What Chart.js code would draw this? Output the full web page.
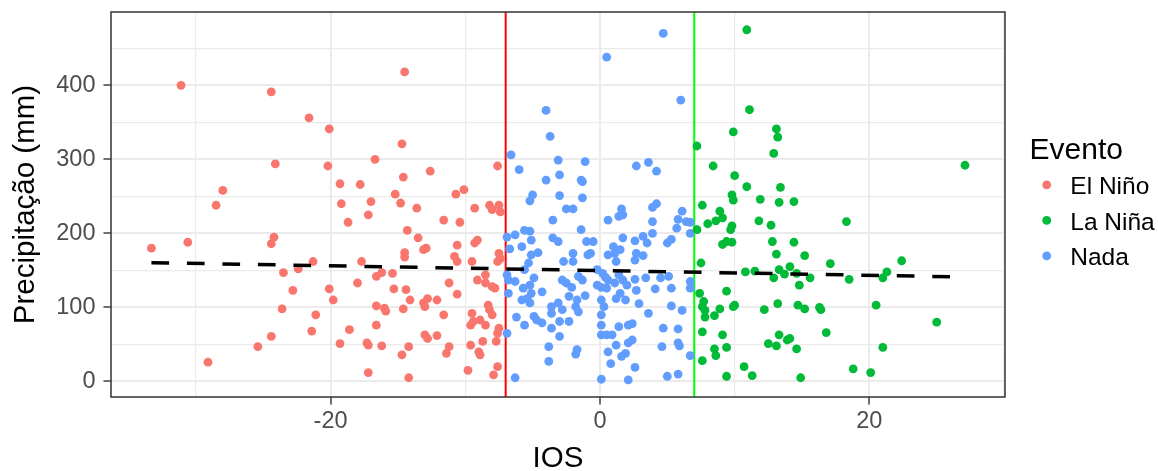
<!DOCTYPE html>
<html>
<head>
<meta charset="utf-8">
<script src="https://cdn.jsdelivr.net/npm/chart.js@4.4.0/dist/chart.umd.min.js"></script>
<style>
  html, body { margin: 0; padding: 0; background: #fff; }
  canvas { display: block; }
</style>
</head>
<body>
<canvas id="grafico" width="1158" height="471"></canvas>
<script>
// categorias do evento e cores (paleta padrao do ggplot)
var categorias = ['El Niño', 'La Niña', 'Nada'];
var cores = ['#F8766D', '#00BA38', '#619CFF'];

// [IOS, precipitacao (mm)]
var elNino = [
  [-31.1,400],[-24.4,391],[-21.6,356],[-20.1,341],[-14.5,418],[-14.7,321],[-16.7,300],[-14.6,276],
  [-24.1,294],[-20.2,291],[-19.3,267],[-17.8,266],[-28.0,258],[-28.5,238],[-19.2,240],[-17.0,243],
  [-15.2,253],[-14.8,241],[-17.2,225],[-18.7,215],[-14.3,204],[-33.3,180],[-30.6,188],[-24.2,195],
  [-24.4,186],[-21.3,162],[-22.4,152],[-23.5,147],[-22.8,123],[-23.6,98],[-21.1,90],[-21.4,68],
  [-24.4,61],[-25.4,47],[-29.1,26],[-20.1,125],[-19.8,110],[-18.0,133],[-17.7,162],[-16.6,142],
  [-16.2,147],[-15.4,146],[-15.3,125],[-14.4,124],[-14.5,174],[-14.5,168],[-16.6,102],[-16.0,99],
  [-15.9,95],[-14.6,98],[-16.6,76],[-18.6,70],[-19.3,51],[-17.3,52],[-17.2,49],[-16.2,48],
  [-14.7,36],[-17.2,12],[-14.2,47],[-14.2,5],[-14.1,110],[-12.6,284],[-7.6,291],[-10.7,253],
  [-10.1,259],[-13.6,234],[-9.3,234],[-8.2,238],[-7.5,238],[-8.0,232],[-7.4,229],[-11.6,218],
  [-10.4,215],[-13.5,194],[-12.9,180],[-13.1,178],[-10.6,184],[-9.3,187],[-9.1,191],[-7.5,173],
  [-7.4,166],[-7.6,162],[-10.8,169],[-10.6,162],[-9.5,162],[-8.5,144],[-9.1,137],[-8.5,133],
  [-11.2,133],[-10.6,118],[-7.8,126],[-8.0,128],[-13.1,106],[-12.8,112],[-12.1,110],[-13.0,101],
  [-11.6,90],[-9.5,92],[-8.9,83],[-8.5,76],[-9.6,76],[-9.4,81],[-8.3,103],[-8.2,97],
  [-8.0,90],[-7.5,72],[-13.0,63],[-12.8,58],[-12.1,62],[-11.2,47],[-11.4,38],[-9.6,49],
  [-8.7,54],[-9.0,40],[-8.9,36],[-7.7,54],[-7.6,65],[-9.8,15],[-7.9,9],[-7.6,20]
];

var laNina = [
  [10.9,475],[11.1,367],[9.9,337],[13.1,341],[13.2,330],[12.9,308],[7.2,318],[8.4,291],
  [10.0,278],[10.9,263],[13.4,262],[27.1,292],[9.8,252],[9.9,245],[11.9,246],[13.3,242],
  [14.4,243],[7.6,238],[8.9,230],[8.6,217],[9.1,221],[8.0,213],[9.8,210],[9.7,205],
  [11.8,217],[12.7,211],[18.3,216],[7.2,205],[9.1,185],[9.4,189],[9.8,188],[12.8,189],
  [14.4,188],[13.1,172],[15.2,170],[7.5,160],[17.1,159],[22.4,163],[10.8,148],[11.5,149],
  [13.3,151],[12.9,140],[13.7,145],[14.1,155],[14.6,146],[14.8,130],[15.6,140],[18.5,138],
  [21.0,140],[21.3,148],[9.4,122],[7.4,119],[7.7,108],[7.6,101],[7.8,96],[7.8,87],
  [8.5,89],[8.9,98],[9.9,101],[10.0,103],[12.2,97],[13.2,105],[14.7,103],[15.2,98],
  [16.3,100],[16.4,97],[20.5,103],[25.0,80],[7.6,67],[9.1,63],[13.3,63],[12.5,51],
  [13.1,48],[13.9,56],[14.1,58],[14.6,44],[16.8,66],[21.0,46],[8.5,44],[8.6,35],
  [9.4,46],[7.6,28],[10.7,20],[11.3,8],[9.4,7],[14.9,5],[18.8,17],[20.1,12]
];

var nada = [
  [4.7,470],[0.5,438],[6.0,380],[-4.0,366],[-3.7,331],[-6.6,306],[-6.0,286],[-3.1,299],
  [-1.1,297],[2.7,291],[3.6,296],[4.2,284],[-4.0,272],[-3.0,279],[-1.4,272],[-1.3,270],
  [-5.0,252],[-5.2,244],[-3.0,251],[-1.3,248],[-2.5,233],[-2.0,233],[1.6,233],[4.2,240],
  [3.9,235],[6.1,230],[-3.5,218],[0.6,218],[1.4,223],[1.7,225],[3.9,216],[6.4,216],
  [5.8,219],[6.7,215],[-6.9,195],[-6.3,198],[-5.6,204],[-5.2,203],[-5.1,191],[-5.8,182],
  [-6.7,179],[-3.5,194],[-3.1,189],[-1.4,205],[-1.0,189],[-0.5,189],[-0.7,173],[-0.9,171],
  [1.7,194],[2.6,190],[3.2,196],[3.5,187],[3.9,200],[5.0,187],[5.3,192],[5.7,207],
  [6.7,200],[1.0,182],[1.5,178],[1.1,173],[0.6,171],[-5.1,171],[-4.6,174],[-2.0,173],
  [-2.0,162],[-2.7,162],[2.7,173],[3.2,170],[2.6,164],[1.2,162],[-5.3,160],[-5.6,151],
  [-6.9,144],[-6.8,137],[-6.3,135],[-4.9,140],[-5.2,130],[-5.7,126],[-2.8,137],[-2.5,133],
  [-2.1,127],[-1.6,142],[-1.3,137],[-0.2,151],[0.2,146],[0.4,141],[0.6,137],[-0.2,130],
  [0.1,127],[0.5,126],[1.4,144],[1.7,137],[1.1,133],[2.0,130],[2.6,138],[3.4,140],
  [4.5,140],[5.1,142],[6.7,135],[4.1,125],[5.3,126],[6.7,126],[-4.3,121],[-5.1,119],
  [-5.4,112],[-5.8,110],[-5.2,106],[-6.8,119],[-3.6,101],[-3.1,106],[-2.8,97],[-3.6,92],
  [-2.3,115],[-1.7,110],[-1.8,101],[-1.6,94],[-1.1,116],[0.1,110],[0.3,101],[0.1,90],
  [1.2,112],[1.9,110],[1.5,119],[2.7,123],[2.9,105],[5.3,102],[6.1,96],[3.6,92],
  [-6.2,87],[-5.6,76],[-4.9,88],[-4.7,83],[-4.3,79],[-6.9,65],[-3.6,72],[-3.0,61],
  [-3.0,81],[-2.3,81],[0.1,76],[0.1,63],[0.5,63],[0.9,63],[1.4,74],[2.1,76],
  [2.4,78],[4.7,72],[5.8,71],[2.4,56],[2.1,52],[5.8,52],[5.9,48],[4.6,47],
  [1.2,49],[-3.8,47],[-1.7,43],[-1.8,37],[0.6,40],[1.9,38],[1.6,34],[-3.8,27],
  [0.8,24],[2.6,19],[-6.3,5],[0.1,3],[2.1,2],[5.0,7],[5.8,10],[6.7,35]
];

// limiares do IOS (linhas verticais) e reta de ajuste
var limiares = [-7, 7];
var coresLimiares = ['#FF0000', '#00FF00'];
var ajusteIntercepto = 149.8;
var ajusteInclinacao = -0.32;

// ticks (grade maior com rotulo, grade menor sem)
var ticksX = [-30, -20, -10, 0, 10, 20, 30];
var rotulosX = [-20, 0, 20];
var ticksY = [0, 50, 100, 150, 200, 250, 300, 350, 400, 450];
var rotulosY = [0, 100, 200, 300, 400];

var fonte = '"Liberation Sans", Arial, Helvetica, sans-serif';

function pontos(lista) {
  return lista.map(function (p) { return { x: p[0], y: p[1] }; });
}

var todos = elNino.concat(laNina, nada);
var xMin = Math.min.apply(null, todos.map(function (p) { return p[0]; }));
var xMax = Math.max.apply(null, todos.map(function (p) { return p[0]; }));

var series = [elNino, laNina, nada];
var datasets = [{
  type: 'line',
  label: 'ajuste',
  data: [
    { x: xMin, y: ajusteIntercepto + ajusteInclinacao * xMin },
    { x: xMax, y: ajusteIntercepto + ajusteInclinacao * xMax }
  ],
  borderColor: '#000',
  borderWidth: 3.5,
  borderDash: [17.7, 17.8],
  pointRadius: 0,
  fill: false,
  order: 0
}];
series.forEach(function (s, i) {
  datasets.push({
    label: categorias[i],
    data: pontos(s),
    backgroundColor: cores[i],
    borderColor: cores[i],
    borderWidth: 0,
    pointRadius: 4.4,
    pointHoverRadius: 4.4,
    order: 1
  });
});

var linhasLimiar = {
  id: 'linhasLimiar',
  beforeDatasetsDraw: function (chart) {
    var ctx = chart.ctx, a = chart.chartArea, sx = chart.scales.x;
    ctx.save();
    limiares.forEach(function (v, i) {
      var px = sx.getPixelForValue(v);
      ctx.strokeStyle = coresLimiares[i];
      ctx.lineWidth = 2;
      ctx.beginPath();
      ctx.moveTo(px, a.top);
      ctx.lineTo(px, a.bottom);
      ctx.stroke();
    });
    ctx.restore();
  }
};

var moldura = {
  id: 'moldura',
  afterDatasetsDraw: function (chart) {
    var ctx = chart.ctx, a = chart.chartArea;
    ctx.save();
    ctx.strokeStyle = '#333333';
    ctx.lineWidth = 1.5;
    ctx.strokeRect(a.left, a.top, a.right - a.left, a.bottom - a.top);
    ctx.restore();
  }
};

var legenda = {
  id: 'legenda',
  afterDraw: function (chart) {
    var ctx = chart.ctx, a = chart.chartArea;
    var cy = (a.top + a.bottom) / 2;
    ctx.save();
    ctx.textAlign = 'left';
    ctx.textBaseline = 'alphabetic';
    ctx.fillStyle = '#000';
    ctx.font = '30px ' + fonte;
    ctx.fillText('Evento', a.right + 24.5, cy - 45.4);
    categorias.forEach(function (c, i) {
      var y = cy - 19.6 + i * 35.5;
      ctx.fillStyle = cores[i];
      ctx.beginPath();
      ctx.arc(a.right + 41.7, y, 4.4, 0, Math.PI * 2);
      ctx.fill();
      ctx.fillStyle = '#000';
      ctx.font = '24.5px ' + fonte;
      ctx.fillText(c, a.right + 65.3, y + 9.5);
    });
    ctx.restore();
  }
};

function semMargens(s) {
  s.paddingTop = 0;
  s.paddingBottom = 0;
  s.paddingLeft = 0;
  s.paddingRight = 0;
}

function eixo(ticks, rotulos) {
  return {
    afterBuildTicks: function (axis) {
      axis.ticks = ticks.map(function (v) { return { value: v }; });
    },
    ticks: {
      autoSkip: false,
      maxRotation: 0,
      color: '#4D4D4D',
      font: { family: fonte, size: 23.5 },
      callback: function (v) { return rotulos.indexOf(v) >= 0 ? String(v) : ''; }
    },
    grid: {
      color: '#EBEBEB',
      lineWidth: function (c) { return c.tick && rotulos.indexOf(c.tick.value) >= 0 ? 2 : 1.2; },
      tickColor: function (c) { return c.tick && rotulos.indexOf(c.tick.value) >= 0 ? '#333333' : 'rgba(0,0,0,0)'; },
      tickWidth: 1.4,
      tickLength: 7.5,
      drawTicks: true
    },
    border: { display: false }
  };
}

var escalaX = eixo(ticksX, rotulosX);
escalaX.type = 'linear';
escalaX.min = -36.3;
escalaX.max = 30.07;
escalaX.ticks.padding = 3;
escalaX.title = { display: true, text: 'IOS', color: '#000', font: { family: fonte, size: 29.5, lineHeight: 0.8 }, padding: { top: 0, bottom: 0 } };
escalaX.afterFit = function (s) { s.height = 74; semMargens(s); };

var escalaY = eixo(ticksY, rotulosY);
escalaY.type = 'linear';
escalaY.min = -21;
escalaY.max = 499;
escalaY.ticks.padding = 8;
escalaY.title = { display: true, text: 'Precipitação (mm)', color: '#000', font: { family: fonte, size: 29.5, lineHeight: 1.2 }, padding: { top: 7.7, bottom: 0 } };
escalaY.afterFit = function (s) { s.width = 111; semMargens(s); };

new Chart(document.getElementById('grafico').getContext('2d'), {
  type: 'scatter',
  data: { datasets: datasets },
  options: {
    responsive: false,
    devicePixelRatio: 1,
    animation: false,
    layout: { padding: { top: 12, right: 153, bottom: 0, left: 0 } },
    plugins: { legend: { display: false }, tooltip: { enabled: false } },
    scales: { x: escalaX, y: escalaY }
  },
  plugins: [linhasLimiar, moldura, legenda]
});
</script>
</body>
</html>
